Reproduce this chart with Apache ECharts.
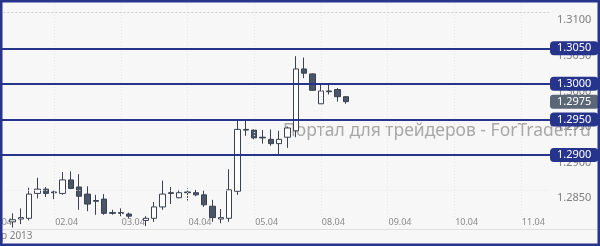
<!DOCTYPE html>
<html><head><meta charset="utf-8">
<script src="https://cdn.jsdelivr.net/npm/echarts@6/dist/echarts.min.js"></script>
<style>html,body{margin:0;padding:0;background:#f7f7f8}#c{width:600px;height:246px}</style>
</head><body><div id="c"></div>
<script>
// ---- data ----
const days = ['01.04','02.04','03.04','04.04','05.04','08.04','09.04','10.04','11.04'];
const hours = ['00:00','03:00','06:00','09:00','12:00','15:00','18:00','21:00'];
const opens  = [null,null,null,1.2806,1.2810,1.2811,1.2846,1.2852,1.2848,1.2846,1.2865,1.2855,1.2845,1.2836,1.2838,1.2819,1.2819,1.2817,null,1.2808,1.2811,1.2827,1.2847,1.2840,1.2848,1.2847,1.2844,1.2828,1.2810,1.2811,1.2849,1.2936,1.2935,1.2925,1.2922,1.2916,1.2925,1.2934,1.3021,1.3014,1.2972,1.2990,1.2992,1.2982];
const closes = [null,null,null,1.2809,1.2812,1.2845,1.2852,1.2846,1.2847,1.2865,1.2853,1.2842,1.2831,1.2835,1.2818,1.2818,1.2818,1.2814,null,1.2811,1.2827,1.2845,1.2846,1.2847,1.2847,1.2844,1.2830,1.2812,1.2812,1.2851,1.2936,1.2935,1.2924,1.2924,1.2916,1.2922,1.2938,1.3021,1.3015,1.2991,1.2990,1.2989,1.2982,1.2975];
const lows   = [null,null,null,1.2798,1.2803,1.2808,1.2839,1.2841,1.2838,1.2844,1.2852,1.2823,1.2821,1.2816,1.2816,1.2816,1.2814,1.2811,null,1.2800,1.2806,1.2823,1.2831,1.2839,1.2836,1.2842,1.2827,1.2806,1.2804,1.2806,1.2844,1.2927,1.2922,1.2916,1.2913,1.2899,1.2910,1.2925,1.3008,1.2990,1.2972,1.2985,1.2975,1.2972];
const highs  = [null,null,null,1.2818,1.2825,1.2854,1.2868,1.2855,1.2850,1.2876,1.2877,1.2873,1.2856,1.2844,1.2845,1.2823,1.2825,1.2819,null,1.2814,1.2834,1.2864,1.2855,1.2851,1.2853,1.2851,1.2850,1.2837,1.2824,1.2880,1.2948,1.2948,1.2936,1.2935,1.2936,1.2934,1.2940,1.3039,1.3037,1.3015,1.3001,1.3001,1.2994,1.2982];
const priceTicks = [1.2850,1.2900,1.2950,1.3000,1.3050,1.3100];
const levels = [1.3050,1.3000,1.2950,1.2900];
const lastPrice = 1.2975;
const gridTop = 1.3100, gridBottom = 1.2850;
const yMin = 1.281284, yMax = 1.311791;

// ---- build ----
const cats = days.flatMap(d => hours.map(h => d + ' ' + h)).slice(0, 68);
const candles = opens.map((o, i) => o == null ? '-' : [o, closes[i], lows[i], highs[i]]);
const NAVY = '#27348b';
const FONT = 'Noto Sans';

const markData = [];
cats.forEach((c, i) => { if (i % 8 === 0) markData.push({xAxis: c, lineStyle:{color:'#e6e6e8', type:[1,2], width:1}, label:{show:false}}); });
markData.push({yAxis: gridTop, lineStyle:{color:'#cfcfcf', type:[2,2], width:1}, label:{show:false}});
markData.push({yAxis: gridBottom, lineStyle:{color:'#ebebeb', type:[1,2], width:1}, label:{show:false}});
levels.forEach(v => markData.push({
  yAxis: v, lineStyle:{color:NAVY, width:2, type:'solid'},
  label:{show:true, position:'end', distance:0, formatter: v.toFixed(4), backgroundColor:NAVY, color:'#fff',
         padding:[2,7,1,7], borderRadius:4, fontSize:11, fontFamily:FONT, lineHeight:11}
}));
markData.push({
  yAxis: lastPrice, lineStyle:{color:'rgba(0,0,0,0)', width:0},
  label:{show:true, position:'end', distance:0, formatter: lastPrice.toFixed(4), backgroundColor:'#5b6677', color:'#fff',
         padding:[2,7,1,7], borderRadius:3, fontSize:11, fontFamily:FONT, lineHeight:11}
});

const chart = echarts.init(document.getElementById('c'), null, {renderer:'canvas'});
chart.setOption({
  animation:false,
  backgroundColor:'#f7f7f8',
  grid:{left:-16.667, top:0, width:566.667, height:217, containLabel:false, outerBoundsMode:'none'},
  xAxis:{type:'category', data:cats, boundaryGap:true,
    axisLine:{show:false}, axisTick:{show:false}, splitLine:{show:false},
    axisLabel:{interval:(i)=> i > 0 && i % 8 === 0, formatter:v=>v.slice(0,5), align:'left', padding:[0,0,0,1],
      margin:1, color:'#8a8a8a', fontSize:9, fontFamily:FONT}},
  yAxis:{type:'value', position:'right', min:yMin, max:yMax, scale:true,
    axisLine:{show:false}, axisTick:{show:false}, splitLine:{show:false},
    axisLabel:{customValues:priceTicks, formatter:v=>v.toFixed(4), color:'#808080', fontSize:11, fontFamily:FONT,
      margin:7, align:'left', verticalAlign:'top', padding:[2,0,0,0]}},
  graphic:[
    {type:'text', x:283, y:131, z:0, style:{text:'Портал для трейдеров - ForTrader.ru', fill:'#a8a8a8', font:'17.5px "Noto Sans"', verticalAlign:'middle'}},
    {type:'text', x:-11, y:218, z:0, style:{text:days[0], fill:'#8a8a8a', font:'9px "Noto Sans"', verticalAlign:'top'}},
    {type:'line', shape:{x1:0,y1:229.5,x2:600,y2:229.5}, style:{stroke:'#e0e0e0', lineWidth:1}},
    {type:'text', x:1, y:236, style:{text:'р 2013', fill:'#808080', font:'10px "Noto Sans"', verticalAlign:'middle'}},
    {type:'rect', z:100, shape:{x:1.25,y:1.25,width:597.5,height:243.5}, style:{fill:null, stroke:NAVY, lineWidth:2.5}}
  ],
  series:[{
    type:'candlestick', data:candles, barWidth:6, clip:true,
    itemStyle:{color:'#ffffff', color0:'#4a5568', borderColor:'#3a4252', borderColor0:'#3a4252', borderWidth:1},
    markLine:{silent:true, precision:6, symbol:['none','none'], animation:false, data:markData}
  }]
});
</script></body></html>
